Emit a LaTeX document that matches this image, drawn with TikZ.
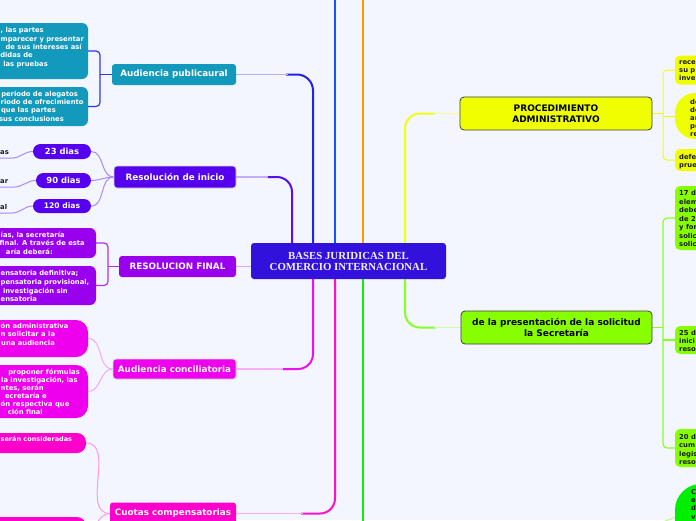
\documentclass[tikz,border=0pt]{standalone}
\usepackage{fontspec}
\setmainfont{DejaVu Sans}
\newfontfamily\centerfont{Liberation Serif}
\usetikzlibrary{calc}
\definecolor{bgc}{HTML}{F3F6FE}
\definecolor{cTeal}{HTML}{1399BC}
\definecolor{cRi}{HTML}{5500EE}
\definecolor{cRf}{HTML}{9900EE}
\definecolor{cAc}{HTML}{EE00EE}
\definecolor{cCc}{HTML}{FF00CC}
\definecolor{cYel}{HTML}{F0FF00}
\definecolor{cGrn}{HTML}{88FF00}
\definecolor{cGrnB}{HTML}{00EE00}
\definecolor{cCenter}{HTML}{3311DD}
\definecolor{cBlueDk}{HTML}{2222EE}
\definecolor{cBlue}{HTML}{1155FF}
\definecolor{cOrange}{HTML}{FF9900}
\definecolor{cPurp}{HTML}{5511EE}
\definecolor{cMag}{HTML}{EE11EE}
\definecolor{cPink}{HTML}{FF11CC}
\definecolor{cGreen}{HTML}{11EE11}
\definecolor{cYelL}{HTML}{EEFF11}
\definecolor{cLGreen}{HTML}{88FF22}
\definecolor{cApL}{HTML}{3333EE}
\definecolor{cRfL}{HTML}{D9A6FF}
\definecolor{cRfE}{HTML}{AA33EE}
\definecolor{cRiL}{HTML}{AA88FF}
\definecolor{cAcL}{HTML}{F4A8F4}
\definecolor{cCcL}{HTML}{FF99E6}
\pgfdeclarelayer{bg}
\pgfsetlayers{bg,main}
\tikzset{
 trunk/.style={line width=2pt},
 twig/.style={line width=1.5pt},
 elb/.style={line width=1.2pt},
 cur/.style={line width=1pt},
 lbl/.style={font=\fontsize{8.8}{10}\selectfont\bfseries, text=white, inner sep=0pt, rounded corners=3pt},
 rlbl/.style={font=\fontsize{9}{11}\selectfont\bfseries, text=black, align=center, inner sep=0pt, rounded corners=4pt, draw=black!75, line width=0.8pt},
 boxn/.style={inner sep=0pt, rounded corners=6pt},
 tw/.style={font=\fontsize{6.8}{8}\selectfont\bfseries, text=white, inner sep=0pt, anchor=base east},
 twl/.style={tw, anchor=base west},
 tb/.style={font=\fontsize{6.8}{8}\selectfont\bfseries, text=black!90, inner sep=0pt, anchor=base west},
}
\begin{document}
\begin{tikzpicture}[x=1pt,y=-1pt]
\useasboundingbox (0,0) rectangle (696,520);
\begin{pgfonlayer}{bg}
\fill[bgc] (0,0) rectangle (696,520);
\end{pgfonlayer}
\clip (0,0) rectangle (696,520);

% central node
\node[fill=cCenter, minimum width=195pt, minimum height=36pt, rounded corners=3pt, text=white!95!blue, align=center, inner sep=0pt, font=\centerfont\bfseries\fontsize{10.8}{11}\selectfont] (center) at (348.5,261) {BASES JURIDICAS DEL\\COMERCIO INTERNACIONAL};

% left main nodes
\node[lbl, fill=cTeal, minimum width=124pt, minimum height=21pt] (ap) at (174,74.5) {Audiencia publicaural};
\node[lbl, fill=cRi, minimum width=122pt, minimum height=22pt, draw=black!15, line width=0.8pt] (ri) at (175,177) {Resolución de inicio};
\node[lbl, fill=cRf, minimum width=117pt, minimum height=21pt] (rf) at (177.5,266.5) {RESOLUCION FINAL};
\node[lbl, fill=cAc, minimum width=123pt, minimum height=20pt, draw=black!15, line width=0.8pt] (ac) at (174.5,369) {Audiencia conciliatoria};
\node[lbl, fill=cCc, minimum width=126pt, minimum height=22pt] (cc) at (173,513.5) {Cuotas compensatorias};

% left child boxes
\node[boxn, fill=cTeal, minimum width=108pt, minimum height=56pt] (ap1) at (34,51) {};
\node[boxn, fill=cTeal, minimum width=108pt, minimum height=39pt] (ap2) at (34,106.5) {};
\node[lbl, fill=cRi, minimum width=58pt, minimum height=15pt, rounded corners=7.5pt, font=\fontsize{8.4}{10}\selectfont\bfseries] (d23) at (62,151.5) {23 dias};
\node[lbl, fill=cRi, minimum width=55pt, minimum height=15pt, rounded corners=7.5pt, font=\fontsize{8.4}{10}\selectfont\bfseries] (d90) at (63.5,180.5) {90 dias};
\node[lbl, fill=cRi, minimum width=58pt, minimum height=14pt, rounded corners=7pt, font=\fontsize{7.6}{9}\selectfont\bfseries] (d120) at (62,206) {120 dias};
\node[boxn, fill=cRf, minimum width=116pt, minimum height=30pt] (rf1) at (38,243) {};
\node[boxn, fill=cRf, minimum width=116pt, minimum height=39pt] (rf2) at (38,285.5) {};
\node[boxn, fill=cAc, minimum width=108pt, minimum height=37pt, rounded corners=12pt] (ac1) at (34,338.5) {};
\node[boxn, fill=cAc, minimum width=108pt, minimum height=53pt, rounded corners=12pt] (ac2) at (34,391.5) {};
\node[boxn, fill=cCc, minimum width=106pt, minimum height=20pt, rounded corners=9pt] (cc1) at (33,443) {};
\node[boxn, fill=cCc, minimum width=106pt, minimum height=24pt, rounded corners=9pt] (cc2) at (33,529) {};

% left texts
\node[twl] (a11) at (0.5,32.7) {, las partes};
\node[twl] (a12) at (0.5,41.1) {mparecer y presentar};
\node[tw] (a13) at (82,49.5) {de sus intereses así};
\node[tw] (a14) at (33,57.9) {didas de};
\node[tw] (a15) at (48,66.3) {las pruebas};
\node[tw] (a21) at (78,96.3) {periodo de alegatos};
\node[twl] (a22) at (0.5,104.6) {riodo de ofrecimiento};
\node[tw] (a23) at (56,112.9) {que las partes};
\node[tw] (a24) at (64,121.2) {sus conclusiones};
\node[twl] (r11) at (0.5,237.3) {ías, la secretaría};
\node[tw] (r12) at (85,245.6) {final. A través de esta};
\node[tw] (r13) at (53,254.6) {aría deberá:};
\node[twl] (r21) at (0.5,275) {ensatoria definitiva;};
\node[twl] (r22) at (0.5,284) {pensatoria provisional,};
\node[tw] (r23) at (68,293) {investigación sin};
\node[twl] (r24) at (0.5,301.3) {ensatoria};
\node[twl] (c11) at (0.5,328.3) {ón administrativa};
\node[twl] (c12) at (0.5,336.6) {n solicitar a la};
\node[twl] (c13) at (1,345) {una audiencia};
\node[tw] (c21) at (80,374) {proponer fórmulas};
\node[twl] (c22) at (1,382.3) {la investigación, las};
\node[twl] (c23) at (0.5,390) {ntes, serán};
\node[tw] (c24) at (47,398.3) {ecretaría e};
\node[twl] (c25) at (0.5,406.3) {ón respectiva que};
\node[tw] (c26) at (43,414) {ción final};
\node[twl, font=\fontsize{6.5}{8}\selectfont\bfseries] (q11) at (0.5,441.6) {serán consideradas};
\node[tb] (gas) at (0,154.5) {as};
\node[tb] (gar) at (0,183.5) {ar};
\node[tb] (gal) at (0,209.5) {al};

% right main nodes
\node[rlbl, fill=cYel, minimum width=192pt, minimum height=33pt] (pa) at (556,113.5) {PROCEDIMIENTO\\ADMINISTRATIVO};
\node[rlbl, fill=cGrn, minimum width=191pt, minimum height=33pt] (ps) at (556.5,327.5) {de la presentación de la solicitud\\la Secretaría};

% right child boxes
\node[boxn, fill=cYel, minimum width=45pt, minimum height=29pt, rounded corners=5pt] (pa1) at (697.5,70) {};
\node[boxn, fill=cYel, minimum width=65pt, minimum height=46pt, rounded corners=20pt] (pa2) at (707.5,116) {};
\node[boxn, fill=cYel, minimum width=45pt, minimum height=22pt, rounded corners=5pt] (pa3) at (697.5,160) {};
\node[boxn, fill=cGrn, minimum width=45pt, minimum height=64pt, rounded corners=5pt] (ps1) at (697.5,218) {};
\node[boxn, fill=cGrn, minimum width=45pt, minimum height=28pt, rounded corners=5pt] (ps2) at (697.5,340) {};
\node[boxn, fill=cGrn, minimum width=45pt, minimum height=38pt, rounded corners=5pt] (ps3) at (697.5,448) {};
\node[boxn, fill=cGrnB, minimum width=90pt, minimum height=82pt, rounded corners=26pt] (ps4) at (720,525) {};

% right texts
\node[tb] (p11) at (679,64) {rece};
\node[tb] (p12) at (679,72.3) {su p};
\node[tb] (p13) at (679,80.6) {inve};
\node[tb] (p21) at (690,104.3) {de};
\node[tb] (p22) at (690,112.3) {de};
\node[tb] (p23) at (690,120.3) {ar};
\node[tb] (p24) at (690,128.3) {pr};
\node[tb] (p25) at (690,136.3) {re};
\node[tb] (p31) at (679,159) {defe};
\node[tb] (p32) at (679,167) {prue};
\node[tb] (s11) at (679,195.5) {17 d};
\node[tb] (s12) at (679,204) {elem};
\node[tb] (s13) at (679,212.5) {debe};
\node[tb] (s14) at (679,221) {de 2};
\node[tb] (s15) at (679,229.5) {y for};
\node[tb] (s16) at (679,238) {solic};
\node[tb] (s17) at (679,246.5) {solic};
\node[tb] (s21) at (679,335) {25 d};
\node[tb] (s22) at (679,343.3) {inici};
\node[tb] (s23) at (679,351.6) {reso};
\node[tb] (s31) at (679,439) {20 d};
\node[tb] (s32) at (679,447.6) {cum};
\node[tb] (s33) at (679,456.2) {legis};
\node[tb] (s34) at (679,464.8) {reso};
\node[tb] (s41) at (691,494) {C};
\node[tb] (s42) at (691,502.3) {e};
\node[tb] (s43) at (691,510.6) {d};
\node[tb] (s44) at (691,519) {v};

% coordinates
\coordinate (xA) at (292,0);
\coordinate (xB) at (313,0);
\coordinate (xC) at (335,0);
\coordinate (xD) at (363,0);
\coordinate (xE) at (405,0);
\coordinate (topC) at (335,-5);
\coordinate (topD) at (363,-5);
\coordinate (botD) at (363,530);
\coordinate (e1) at (100,0);
\coordinate (e2) at (108,0);
\coordinate (e3) at (663,0);
\coordinate (u1) at (12,158);
\coordinate (u1e) at (-2,158);
\coordinate (u2) at (14,187);
\coordinate (u2e) at (-2,187);
\coordinate (u3) at (12,213);
\coordinate (u3e) at (-2,213);
\coordinate (g4) at (660,523);
\coordinate (g4e) at (676,517);

\begin{pgfonlayer}{bg}
\clip (0,0) rectangle (696,520);
% top trunks
\draw[trunk, cBlueDk, rounded corners=16pt] ($(ap.east)+(50,0)$) -| (xB |- center.north);
\draw[twig, cBlueDk!35] (ap.east) -- ($(ap.east)+(52,0)$);
\draw[trunk, cPurp, rounded corners=15pt] ($(ri.east)+(30,0)$) -| (xA |- center.north);
\draw[twig, cPurp!35] (ri.east) -- ($(ri.east)+(32,0)$);
\draw[trunk, cBlue] (xC |- center.north) -- (topC);
\draw[trunk, cOrange] (xD |- center.north) -- (topD);
\draw[trunk, cYelL, rounded corners=15pt] ($(pa.west)+(-25,0)$) -| (xE |- center.north);
\draw[twig, cYelL!45] (pa.west) -- ($(pa.west)+(-27,0)$);
\draw[twig, cRfL] (rf.east) -- (center.west |- rf.east);
% bottom trunks
\draw[trunk, cMag, rounded corners=15pt] ($(ac.east)+(45,0)$) -| (xB |- center.south);
\draw[twig, cMag!35] (ac.east) -- ($(ac.east)+(47,0)$);
\draw[trunk, cPink, rounded corners=15pt] ($(cc.east)+(65,0)$) -| (xC |- center.south);
\draw[twig, cPink!35] (cc.east) -- ($(cc.east)+(67,0)$);
\draw[trunk, cGreen] (xD |- center.south) -- (botD);
\draw[trunk, cLGreen, rounded corners=15pt] ($(ps.west)+(-25,0)$) -| (xE |- center.south);
\draw[twig, cLGreen!45] (ps.west) -- ($(ps.west)+(-27,0)$);
% elbows
\draw[elb, cApL, rounded corners=4pt] (ap1.east) -| (e1 |- ap2.east) -- (ap2.east);
\draw[elb, cApL] (ap.west) -- (e1 |- ap.west);
\draw[elb, cRfE, rounded corners=4pt] (rf1.east) -| (e2 |- rf2.east) -- (rf2.east);
\draw[elb, cRfE] (rf.west) -- (e2 |- rf.west);
\draw[cur, cYelL, rounded corners=4pt] (pa1.west) -| (e3 |- pa3.west) -- (pa3.west);
\draw[cur, cYelL] (pa.east) -- (e3 |- pa.east);
\draw[cur, cYelL] (pa2.west) -- (e3 |- pa2.west);
\draw[elb, cLGreen, rounded corners=4pt] (ps1.west) -| (e3 |- ps3.west) -- (ps3.west);
\draw[elb, cLGreen] (ps.east) -- (e3 |- ps.east);
\draw[elb, cLGreen] (ps2.west) -- (e3 |- ps2.west);
% curves
\draw[cur, cRiL] (ri.west) to[out=180,in=0] (d23.east);
\draw[cur, cRiL] (ri.west) to[out=180,in=0] (d90.east);
\draw[cur, cRiL] (ri.west) to[out=180,in=0] (d120.east);
\draw[cur, cRiL] (d23.west) to[out=180,in=0] (u1) -- (u1e);
\draw[cur, cRiL] (d90.west) to[out=180,in=0] (u2) -- (u2e);
\draw[cur, cRiL] (d120.west) to[out=180,in=0] (u3) -- (u3e);
\draw[cur, cAcL] (ac.west) to[out=180,in=0] (ac1.east);
\draw[cur, cAcL] (ac.west) to[out=180,in=0] (ac2.east);
\draw[cur, cCcL] (cc.west) to[out=180,in=0] (cc1.east);
\draw[cur, cCcL] (cc.west) to[out=180,in=0] (cc2.east);
\draw[cur, cLGreen!60] (g4) to[out=20,in=200] (g4e);
\end{pgfonlayer}
\end{tikzpicture}
\end{document}
